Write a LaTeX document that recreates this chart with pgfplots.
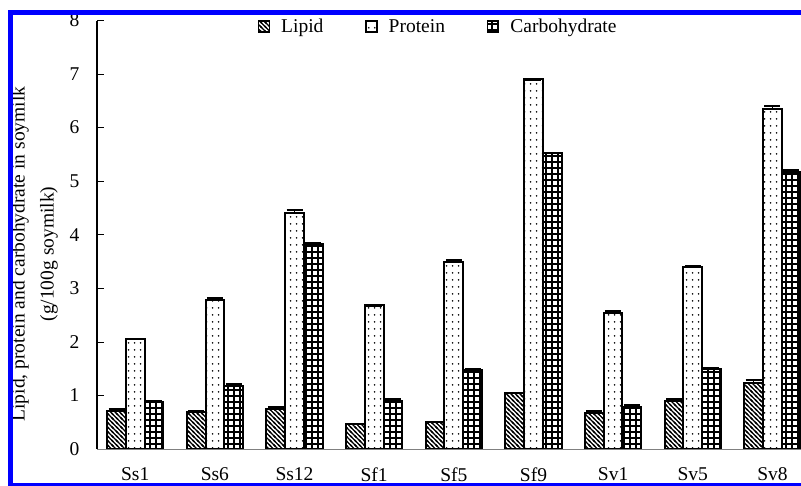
\documentclass[border=0pt]{standalone}
\usepackage{pgfplots}
\pgfplotsset{compat=1.18}
\usepackage{pgfplotstable}
\usepackage{fontspec}
\setmainfont{Liberation Serif}
\usetikzlibrary{patterns}

\pgfdeclarepatternformonly{hatchlines}{\pgfqpoint{-1pt}{-1pt}}{\pgfqpoint{5.5pt}{5.5pt}}{\pgfqpoint{4.5pt}{4.5pt}}{%
  \pgfsetlinewidth{1.1pt}%
  \pgfpathmoveto{\pgfqpoint{0pt}{4.5pt}}\pgfpathlineto{\pgfqpoint{4.5pt}{0pt}}%
  \pgfpathmoveto{\pgfqpoint{-1pt}{1pt}}\pgfpathlineto{\pgfqpoint{1pt}{-1pt}}%
  \pgfpathmoveto{\pgfqpoint{3.5pt}{5.5pt}}\pgfpathlineto{\pgfqpoint{5.5pt}{3.5pt}}%
  \pgfusepath{stroke}}
\pgfdeclarepatternformonly{sparsedots}{\pgfqpoint{0pt}{0pt}}{\pgfqpoint{6pt}{7pt}}{\pgfqpoint{6pt}{7pt}}{%
  \pgfpathcircle{\pgfqpoint{3pt}{3.5pt}}{1pt}%
  \pgfusepath{fill}}
\pgfdeclarepatternformonly{biggrid}{\pgfqpoint{-1pt}{-1pt}}{\pgfqpoint{7pt}{7pt}}{\pgfqpoint{6pt}{6pt}}{%
  \pgfsetlinewidth{1.4pt}%
  \pgfpathmoveto{\pgfqpoint{-1pt}{0pt}}\pgfpathlineto{\pgfqpoint{7pt}{0pt}}%
  \pgfpathmoveto{\pgfqpoint{0pt}{-1pt}}\pgfpathlineto{\pgfqpoint{0pt}{7pt}}%
  \pgfusepath{stroke}}

\pgfplotstableread{
x lipid lerr protein perr carb cerr
0 0.71 0.03 2.05 0.00 0.87 0.03
1 0.70 0.00 2.78 0.03 1.18 0.03
2 0.75 0.03 4.41 0.05 3.82 0.03
3 0.46 0.00 2.68 0.00 0.90 0.04
4 0.51 0.00 3.49 0.03 1.47 0.03
5 1.05 0.00 6.90 0.00 5.53 0.00
6 0.68 0.03 2.54 0.04 0.78 0.04
7 0.90 0.03 3.39 0.03 1.49 0.02
8 1.23 0.06 6.34 0.06 5.18 0.03
}\soydata

\begin{document}
\begin{tikzpicture}
\begin{axis}[
  at={(97pt,37pt)}, anchor=south west,
  x=79.65pt, y=53.56pt,
  xmin=-0.48, xmax=8.5, ymin=0, ymax=8,
  enlargelimits=false,
  axis lines*=left,
  x axis line style={gray, line width=0.8pt},
  y axis line style={black, line width=1.1pt},
  ybar=0pt, bar width=18.7pt,
  xtick={0,...,8},
  xticklabels={Ss1,Ss6,Ss12,Sf1,Sf5,Sf9,Sv1,Sv5,Sv8},
  x tick style={draw=none},
  extra x ticks={0.5,1.5,...,7.5},
  extra x tick labels={},
  extra x tick style={tick style={draw=gray, line width=0.6pt}, major tick length=6pt},
  ytick={0,1,...,8},
  tick align=inside,
  major tick length=7pt,
  y tick style={black, line width=0.6pt},
  /pgf/number format/assume math mode=true,
  tick label style={font=\fontsize{19.5}{23}\selectfont},
  xticklabel style={yshift=-15pt},
  yticklabel style={xshift=-14pt},
  ylabel={Lipid, protein and carbohydrate in soymilk\\(g/100g soymilk)},
  ylabel style={at={(axis description cs:-0.0874,0.455)}, anchor=center, align=center, font=\fontsize{19.5}{29}\selectfont},
  legend columns=3,
  legend style={draw=none, fill=none, at={(axis description cs:0.477,0.985)}, anchor=center, font=\fontsize{19.5}{23}\selectfont,
    /tikz/every odd column/.append style={column sep=9pt},
    /tikz/every even column/.append style={column sep=40pt}},
  legend image code/.code={\draw[#1, line width=1.3pt] (0pt,-5pt) rectangle (11pt,6pt);},
  every axis plot/.append style={draw=black, line width=2pt},
  error bars/y dir=plus, error bars/y explicit,
  error bars/error bar style={line width=1.2pt, black},
  error bars/error mark options={rotate=90, mark size=8pt, line width=2.2pt, black},
]
\addplot[pattern=hatchlines] table[x=x, y=lipid, y error=lerr] {\soydata};
\addplot[pattern=sparsedots] table[x=x, y=protein, y error=perr] {\soydata};
\addplot[pattern=biggrid] table[x=x, y=carb, y error=cerr] {\soydata};
\legend{Lipid, Protein, Carbohydrate}
\end{axis}
\fill[blue] (8.3pt,0pt) rectangle (13.3pt,476pt);
\fill[blue] (8.3pt,471pt) rectangle (801pt,476pt);
\fill[blue] (8.3pt,0pt) rectangle (801pt,2.7pt);
\pgfresetboundingbox
\useasboundingbox (0pt,0pt) rectangle (801pt,486pt);
\end{tikzpicture}
\end{document}
